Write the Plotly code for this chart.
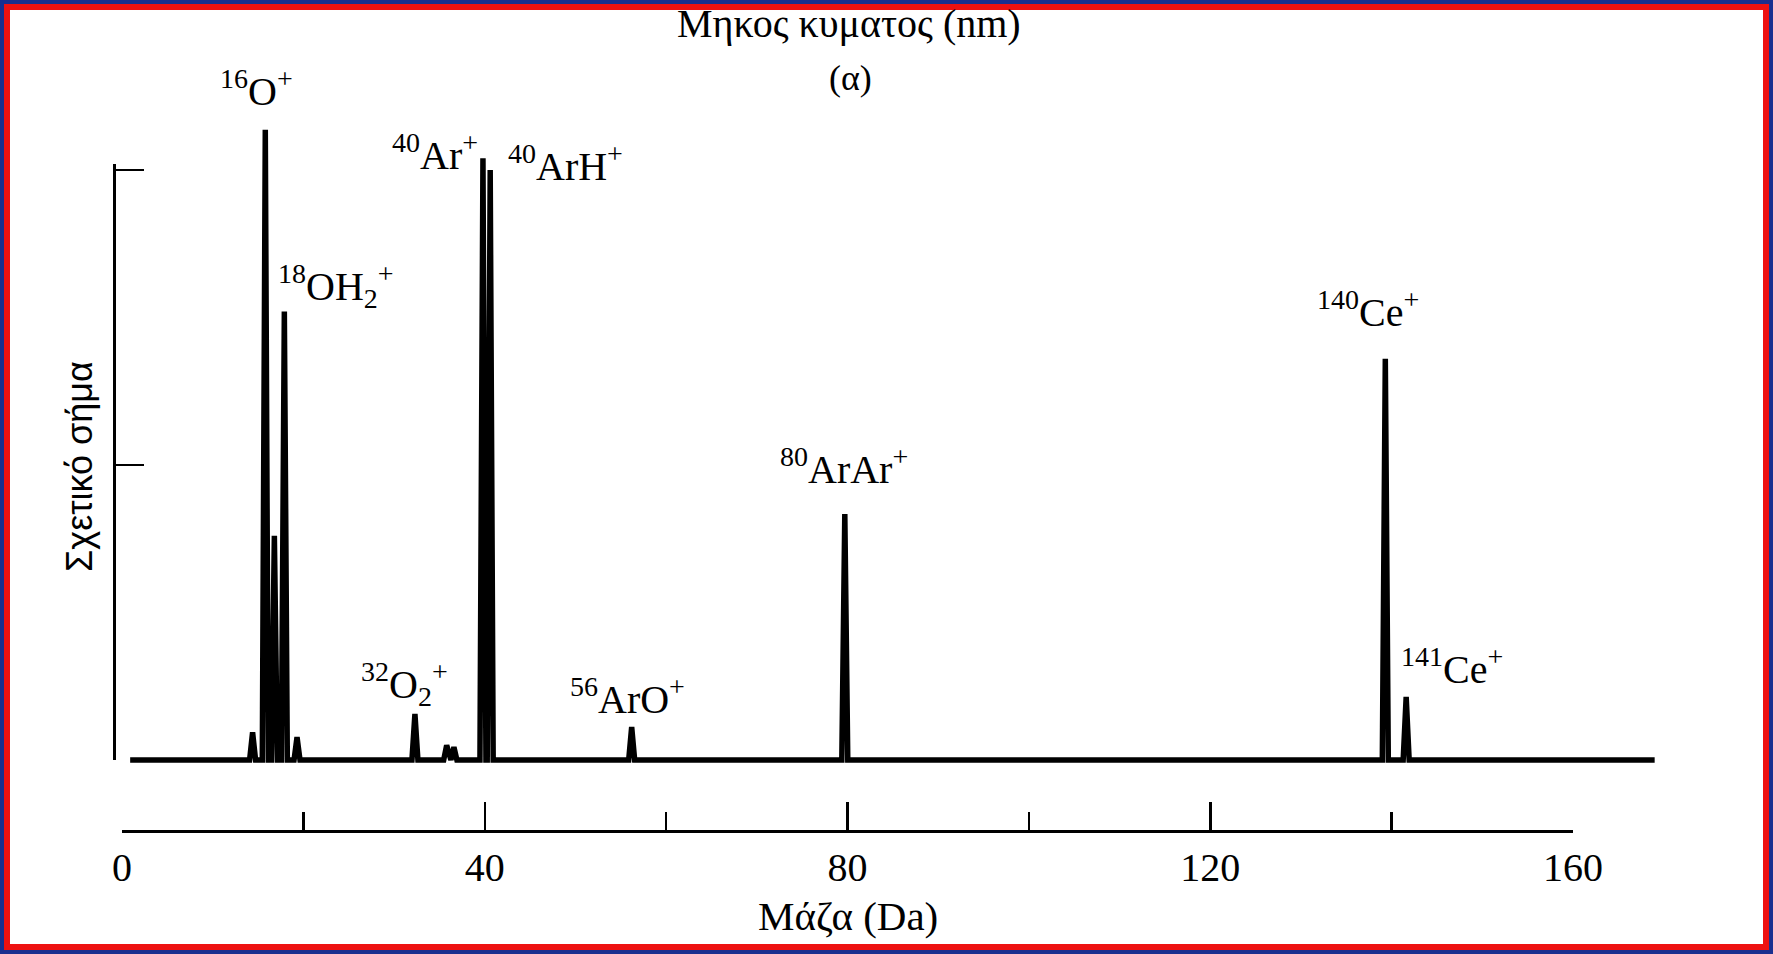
import plotly.graph_objects as go

# ---------------- data ----------------
# mass spectrum peaks (m/z in Da) and relative heights (arbitrary units, 100 = upper bracket tick)
peak_mass = [14.4, 15.8, 16.8, 17.9, 19.3, 32.3, 35.8, 36.6, 39.8, 40.6, 56.2, 79.7, 139.3, 141.6]
peak_height = [4.7, 106.8, 38.0, 76.0, 3.9, 7.8, 2.5, 2.2, 102.0, 100.0, 5.6, 41.7, 68.0, 10.7]
spectrum_start = 0.9
spectrum_end = 169.0

label_text = [
    "<sup>16</sup>O<sup>+</sup>",
    "<sup>18</sup>OH<sub>2</sub><sup>+</sup>",
    "<sup>40</sup>Ar<sup>+</sup>",
    "<sup>40</sup>ArH<sup>+</sup>",
    "<sup>32</sup>O<sub>2</sub><sup>+</sup>",
    "<sup>56</sup>ArO<sup>+</sup>",
    "<sup>80</sup>ArAr<sup>+</sup>",
    "<sup>140</sup>Ce<sup>+</sup>",
    "<sup>141</sup>Ce<sup>+</sup>",
]
x_tick_vals = [0, 40, 80, 120, 160]
x_tick_text = ["0", "40", "80", "120", "160"]
y_bracket_ticks = [50, 100]

x_title = "Μάζα (Da)"
y_title = "Σχετικό σήμα"
top_title = "Μηκος κυματος (nm)"
panel_label = "(α)"

# ---------------- build spectrum polyline from peak list ----------------
half_w = 0.33
xs = [spectrum_start]
ys = [0.0]
for m, h in zip(peak_mass, peak_height):
    xs += [m - half_w, m, m + half_w]
    ys += [0.0, h, 0.0]
xs.append(spectrum_end)
ys.append(0.0)

# ---------------- layout geometry (pixels) ----------------
W, H = 1773, 954
px0 = 122          # x pixel of mass 0
pxs = 9.069        # pixels per Da
base_px = 760      # baseline pixel row
ys_px = 5.9        # pixels per unit
def fx(p): return p / W
def fy(p): return 1 - p / H

fig = go.Figure()
fig.add_trace(go.Scatter(
    x=xs, y=ys, mode="lines",
    line=dict(color="black", width=5.5),
    xaxis="x", yaxis="y", hoverinfo="skip", showlegend=False,
))
# carrier trace for the drawn axes
fig.add_trace(go.Scatter(
    x=[0, 160], y=[0, 100], mode="markers", marker=dict(opacity=0),
    xaxis="x2", yaxis="y2", hoverinfo="skip", showlegend=False,
))

serif = "Liberation Serif"
label_pos = [  # pixel centres of each peak label
    (256, 88), (336, 286), (435, 152), (565, 163), (404, 684),
    (627, 696), (844, 467), (1368, 309), (1452, 666),
]
annotations = []
for t, (px, py) in zip(label_text, label_pos):
    annotations.append(dict(
        text=t, x=fx(px), y=fy(py), xref="paper", yref="paper",
        xanchor="center", yanchor="middle", showarrow=False,
        font=dict(family=serif, size=40, color="black"),
    ))
annotations += [
    dict(text=x_title, x=fx(848), y=fy(916), xref="paper", yref="paper",
         xanchor="center", yanchor="middle", showarrow=False,
         font=dict(family=serif, size=41, color="black")),
    dict(text=y_title, x=fx(80), y=fy(467), xref="paper", yref="paper",
         xanchor="center", yanchor="middle", showarrow=False, textangle=-90,
         font=dict(family="Liberation Sans", size=36, color="black")),
    dict(text=top_title, x=fx(849), y=fy(24), xref="paper", yref="paper",
         xanchor="center", yanchor="middle", showarrow=False,
         font=dict(family=serif, size=40, color="black")),
    dict(text=panel_label, x=fx(850), y=fy(78), xref="paper", yref="paper",
         xanchor="center", yanchor="middle", showarrow=False,
         font=dict(family=serif, size=36, color="black")),
]

shapes = [
    dict(type="rect", xref="paper", yref="paper", x0=0, y0=0, x1=1, y1=1,
         line=dict(color="#1a2f8f", width=9), fillcolor="rgba(0,0,0,0)", layer="above"),
    dict(type="rect", xref="paper", yref="paper", x0=fx(7), y0=fy(H - 7), x1=fx(W - 7), y1=fy(7),
         line=dict(color="#ee1111", width=6), fillcolor="rgba(0,0,0,0)", layer="above"),
]

top_extra = 1.0  # small overshoot so the end tick at 100 is drawn
fig.update_layout(
    width=W, height=H, autosize=False,
    margin=dict(l=0, r=0, t=0, b=0, pad=0),
    paper_bgcolor="white", plot_bgcolor="rgba(0,0,0,0)",
    showlegend=False,
    xaxis=dict(domain=[fx(px0), fx(px0 + 170 * pxs)], range=[0, 170],
               visible=False, fixedrange=True),
    yaxis=dict(domain=[0, 1], range=[-(H - base_px) / ys_px, base_px / ys_px],
               visible=False, fixedrange=True),
    xaxis2=dict(domain=[fx(px0), fx(px0 + 160 * pxs)], range=[0, 160],
                anchor="free", position=fy(831),
                showline=True, linecolor="black", linewidth=3,
                ticks="inside", ticklen=28, tickwidth=2.5, tickcolor="black",
                tickvals=x_tick_vals, ticktext=x_tick_text,
                minor=dict(ticks="inside", ticklen=18, tickwidth=2.5, tickcolor="black",
                           tick0=0, dtick=20, showgrid=False),
                showgrid=False, zeroline=False, ticklabelstandoff=0,
                automargin=False,
                tickfont=dict(family=serif, size=40, color="black")),
    yaxis2=dict(domain=[fy(base_px), fy(170 - top_extra * ys_px)], range=[0, 100 + top_extra],
                anchor="free", position=fx(114),
                showline=True, linecolor="black", linewidth=3,
                ticks="inside", ticklen=28, tickwidth=2.5, tickcolor="black",
                tickvals=y_bracket_ticks, showticklabels=False,
                automargin=False,
                showgrid=False, zeroline=False),
    annotations=annotations,
    shapes=shapes,
)

post = (
    "var css=document.createElement('style');"
    "css.textContent='html,body{margin:0!important;padding:0!important;overflow:hidden!important;}"
    "body>div{margin:0!important;padding:0!important;}"
    ".plotly-graph-div{position:fixed!important;left:0!important;top:0!important;"
    "width:1773px!important;height:954px!important;}';"
    "document.head.appendChild(css);"
    "var gd=document.getElementById('{plot_id}');"
    "Plotly.relayout(gd,{width:1773,height:954,autosize:false});"
)
fig.write_html("out.html", post_script=post,
               config={"responsive": False, "displayModeBar": False, "staticPlot": True})
